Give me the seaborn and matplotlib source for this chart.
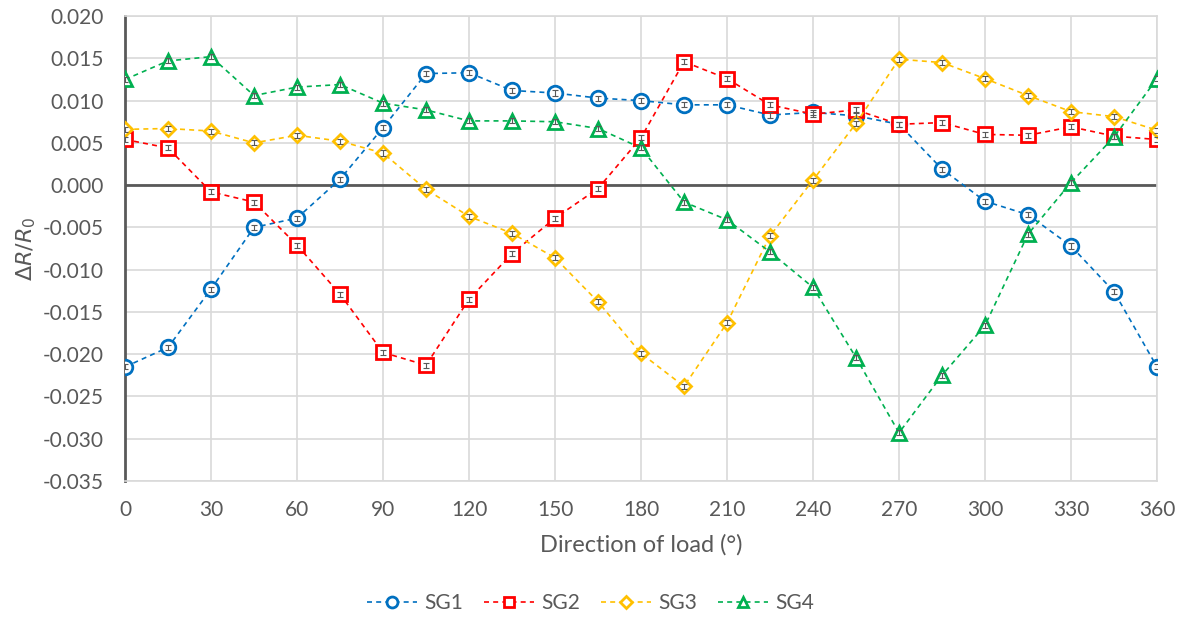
import matplotlib
matplotlib.use("Agg")
import matplotlib.pyplot as plt
import seaborn as sns
import pandas as pd

# Load direction in degrees
angles = [0, 15, 30, 45, 60, 75, 90, 105, 120, 135, 150, 165, 180,
          195, 210, 225, 240, 255, 270, 285, 300, 315, 330, 345, 360]

# Relative resistance change for each strain gauge
sg1 = [-0.0215, -0.0192, -0.0123, -0.0050, -0.0039, 0.0007, 0.0068, 0.0132, 0.0133,
       0.0112, 0.0109, 0.0103, 0.0100, 0.0095, 0.0095, 0.0083, 0.0086, 0.0082,
       0.0072, 0.0019, -0.0019, -0.0035, -0.0072, -0.0126, -0.0215]
sg2 = [0.0054, 0.0044, -0.0008, -0.0020, -0.0071, -0.0129, -0.0198, -0.0213, -0.0135,
       -0.0081, -0.0039, -0.0004, 0.0056, 0.0146, 0.0126, 0.0095, 0.0084, 0.0089,
       0.0072, 0.0074, 0.0060, 0.0059, 0.0069, 0.0058, 0.0054]
sg3 = [0.0066, 0.0067, 0.0064, 0.0050, 0.0059, 0.0052, 0.0038, -0.0005, -0.0037,
       -0.0057, -0.0086, -0.0138, -0.0199, -0.0238, -0.0163, -0.0060, 0.0006, 0.0073,
       0.0149, 0.0145, 0.0126, 0.0106, 0.0087, 0.0081, 0.0065]
sg4 = [0.0125, 0.0147, 0.0152, 0.0106, 0.0116, 0.0119, 0.0097, 0.0089, 0.0076,
       0.0076, 0.0075, 0.0067, 0.0044, -0.0020, -0.0041, -0.0079, -0.0121, -0.0204,
       -0.0293, -0.0225, -0.0166, -0.0058, 0.0003, 0.0057, 0.0126]

# Measurement uncertainty shown as small error bars
err = 0.0003

series_names = ["SG1", "SG2", "SG3", "SG4"]
series_values = [sg1, sg2, sg3, sg4]

x_ticks = list(range(0, 361, 30))
y_ticks = [-0.035, -0.030, -0.025, -0.020, -0.015, -0.010, -0.005,
           0.000, 0.005, 0.010, 0.015, 0.020]

styles = {
    "SG1": dict(color="#0070C0", marker="o", ms=10.5),
    "SG2": dict(color="#FF0000", marker="s", ms=10.5),
    "SG3": dict(color="#FFC000", marker="D", ms=7.5),
    "SG4": dict(color="#00B050", marker="^", ms=10.5),
}

sns.set_theme(style="whitegrid")
plt.rcParams["font.family"] = ["Lato", "DejaVu Sans"]
plt.rcParams["mathtext.fontset"] = "dejavusans"

fig = plt.figure(figsize=(11.84, 6.19), dpi=100)
ax = fig.add_axes([0.1056, 0.223, 0.8716, 0.751])

df = pd.DataFrame({"angle": angles * 4,
                   "value": sum(series_values, []),
                   "gauge": [n for n in series_names for _ in angles]})

for name in series_names:
    st = styles[name]
    sub = df[df["gauge"] == name]
    sns.lineplot(data=sub, x="angle", y="value", ax=ax, color=st["color"],
                 linestyle=(0, (3, 2.5)), linewidth=1.2, marker=st["marker"],
                 markersize=st["ms"], markerfacecolor="white",
                 markeredgecolor=st["color"], markeredgewidth=2.0,
                 label=name, zorder=3)
    ax.errorbar(sub["angle"], sub["value"], yerr=err, fmt="none",
                ecolor="#595959", elinewidth=0.8, capsize=2.0, capthick=0.8,
                zorder=4)

ax.axhline(0, color="#595959", linewidth=2.0, zorder=2)

ax.set_xlim(0, 360)
ax.set_ylim(-0.035, 0.020)
ax.set_xticks(x_ticks)
ax.set_yticks(y_ticks)
ax.set_yticklabels([f"{v:.3f}" for v in y_ticks])
ax.grid(True, color="#D9D9D9", linewidth=1.2)
ax.tick_params(axis="both", length=0, labelsize=15, colors="#595959")
ax.tick_params(axis="x", pad=14)
ax.tick_params(axis="y", pad=15)

for side in ["top", "right", "bottom"]:
    ax.spines[side].set_color("#D9D9D9")
    ax.spines[side].set_linewidth(1.2)
ax.spines["left"].set_color("#595959")
ax.spines["left"].set_linewidth(2.0)

ax.set_xlabel("Direction of load (°)", fontsize=17, color="#595959", labelpad=10)
ax.set_ylabel(r"$\Delta R/R_0$", fontsize=16, color="#595959", labelpad=4)

handles, labels = ax.get_legend_handles_labels()
ax.legend_.remove()
fig.legend(handles, labels, loc="center", bbox_to_anchor=(0.499, 0.026),
           ncol=4, frameon=False, fontsize=15, handlelength=2.4,
           markerscale=0.75, columnspacing=1.0, handletextpad=0.35,
           labelcolor="#595959")

fig.savefig("out.png", dpi=100)
